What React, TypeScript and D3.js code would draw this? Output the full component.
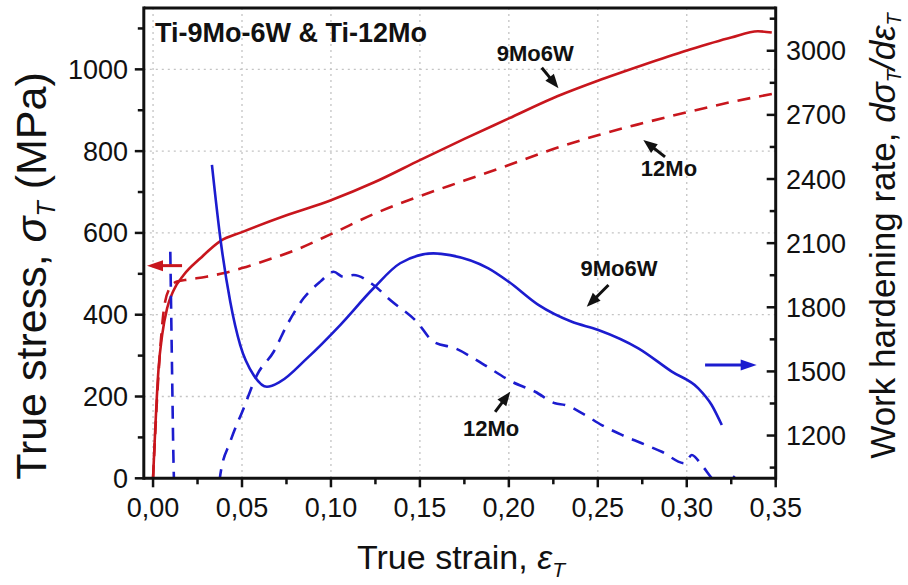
import React from "react";
import * as d3 from "d3";

// ---- Data ----
const strain9Mo6W = [0, 0.0031, 0.0051, 0.0079, 0.0116, 0.0172, 0.0266, 0.0378, 0.05, 0.075, 0.1, 0.125, 0.15, 0.175, 0.2, 0.225, 0.25, 0.275, 0.3, 0.325, 0.34, 0.3478];
const stress9Mo6W = [0, 269, 350, 416, 460, 497, 538, 580, 602, 643, 680, 725, 778, 830, 880, 930, 972, 1010, 1046, 1078, 1093, 1090];

const strain12Mo = [0, 0.003, 0.006, 0.009, 0.0135, 0.02, 0.03, 0.04, 0.05, 0.065, 0.08, 0.1, 0.125, 0.15, 0.175, 0.2, 0.225, 0.25, 0.275, 0.3, 0.325, 0.348];
const stress12Mo = [0, 250, 410, 462, 481, 486, 493, 502, 514, 535, 558, 597, 648, 690, 728, 766, 805, 839, 868, 895, 920, 940];

const whrStrain9Mo6W = [0.0331, 0.0378, 0.0434, 0.049, 0.0565, 0.064, 0.0715, 0.0865, 0.1052, 0.1239, 0.1389, 0.1576, 0.167, 0.1885, 0.1998, 0.2166, 0.2354, 0.2503, 0.2728, 0.2916, 0.3065, 0.314, 0.3197];
const whr9Mo6W = [2466, 2124, 1826, 1623, 1483, 1428, 1452, 1561, 1717, 1889, 2006, 2052, 2044, 1982, 1920, 1811, 1732, 1694, 1608, 1499, 1421, 1343, 1249];

const whrStrain12Mo = [0.0097, 0.0106, 0.0116, 0.0122, 0.036, 0.0378, 0.0434, 0.0509, 0.0584, 0.0678, 0.0753, 0.0846, 0.094, 0.1015, 0.107, 0.1127, 0.1239, 0.1333, 0.1483, 0.1576, 0.1698, 0.1848, 0.2017, 0.2148, 0.226, 0.2316, 0.2429, 0.2522, 0.2635, 0.2747, 0.286, 0.299, 0.3028, 0.3084, 0.314, 0.3195, 0.325, 0.327];
const whr12Mo = [2060, 1550, 1040, 900, 900, 1016, 1171, 1327, 1483, 1592, 1717, 1842, 1920, 1966, 1942, 1951, 1904, 1834, 1732, 1639, 1608, 1538, 1452, 1405, 1351, 1343, 1296, 1249, 1203, 1164, 1124, 1070, 1109, 1062, 1001, 950, 990, 1010];

const xTicks = [0, 0.05, 0.1, 0.15, 0.2, 0.25, 0.3, 0.35];
const xMinorTicks = [0.025, 0.075, 0.125, 0.175, 0.225, 0.275, 0.325];
const yLeftTicks = [0, 200, 400, 600, 800, 1000];
const yLeftMinorTicks = [100, 300, 500, 700, 900, 1100];
const yRightTicks = [1200, 1500, 1800, 2100, 2400, 2700, 3000];
const yRightMinorTicks = [1050, 1350, 1650, 1950, 2250, 2550, 2850, 3150];

const labelTexts = ["9Mo6W", "12Mo", "9Mo6W", "12Mo"];
const labelX = [0.2148, 0.29, 0.2619, 0.19];
const labelY = [1040, 759, 1984, 1235];
const labelAxis = ["L", "L", "R", "R"];

const pointerTailX = [0.2185, 0.2878, 0.256, 0.1923];
const pointerTailY = [1004, 786, 1904, 1311];
const pointerHeadX = [0.2279, 0.2756, 0.2438, 0.2008];
const pointerHeadY = [954, 827, 1803, 1405];

const RED = "#c8161d";
const BLUE = "#1c1ccf";
const FONT = "'Liberation Sans', Arial, Helvetica, sans-serif";

const W = 908, H = 585;
const L = 143.8, R = 775.7, T = 8, B = 478.3;

function zip(xs: number[], ys: number[]) {
  return xs.map((x, i) => [x, ys[i]] as [number, number]);
}

function Arrow({ x1, y1, x2, y2, color, hl, hw, sw }: any) {
  const dx = x2 - x1, dy = y2 - y1;
  const len = Math.hypot(dx, dy);
  const ux = dx / len, uy = dy / len;
  const bx = x2 - ux * hl, by = y2 - uy * hl;
  const px = -uy, py = ux;
  const pts = [
    [x2, y2],
    [bx + px * hw / 2, by + py * hw / 2],
    [bx - px * hw / 2, by - py * hw / 2],
  ];
  return (
    <g>
      <line x1={x1} y1={y1} x2={bx + ux * 1} y2={by + uy * 1} stroke={color} strokeWidth={sw} />
      <polygon points={pts.map((p) => p.join(",")).join(" ")} fill={color} />
    </g>
  );
}

export default function App() {
  const x = d3.scaleLinear().domain([-0.0052, 0.35]).range([L, R]);
  const yL = d3.scaleLinear().domain([0, 1150]).range([B, T]);
  const yR = d3.scaleLinear().domain([1000, 3200]).range([B, T]);

  const lineL = d3.line<[number, number]>().x((d) => x(d[0])).y((d) => yL(d[1])).curve(d3.curveMonotoneX);
  const lineR = d3.line<[number, number]>().x((d) => x(d[0])).y((d) => yR(d[1])).curve(d3.curveMonotoneX);

  const fmtX = (v: number) => d3.format(".2f")(v).replace(".", ",");

  return (
    <svg width={W} height={H} style={{ position: "fixed", left: 0, top: 0, background: "#fff" }} fontFamily={FONT}>
      <defs>
        <clipPath id="plot">
          <rect x={L} y={T} width={R - L} height={B - T} />
        </clipPath>
      </defs>
      <rect x={0} y={0} width={W} height={H} fill="#fff" />

      {/* grid */}
      <g stroke="#c4c4c4" strokeWidth={1.3} strokeDasharray="2 4">
        {xTicks.slice(0, -1).map((t) => (
          <line key={"gx" + t} x1={x(t)} x2={x(t)} y1={T} y2={B} />
        ))}
        {yLeftTicks.slice(1).map((t) => (
          <line key={"gy" + t} x1={L} x2={R} y1={yL(t)} y2={yL(t)} />
        ))}
      </g>

      {/* curves */}
      <g clipPath="url(#plot)" fill="none" strokeWidth={2.6}>
        <path d={lineL(zip(strain9Mo6W, stress9Mo6W)) || ""} stroke={RED} />
        <path d={lineL(zip(strain12Mo, stress12Mo)) || ""} stroke={RED} strokeDasharray="13 9" />
        <path d={lineR(zip(whrStrain9Mo6W, whr9Mo6W)) || ""} stroke={BLUE} />
        <path d={lineR(zip(whrStrain12Mo, whr12Mo)) || ""} stroke={BLUE} strokeDasharray="13 9" />
      </g>

      {/* frame */}
      <g stroke="#111" strokeWidth={3} fill="none">
        <line x1={L} x2={R} y1={T} y2={T} />
        <line x1={L} x2={R} y1={B} y2={B} />
        <line x1={L} x2={L} y1={T - 1.5} y2={B + 1.5} />
        <line x1={R} x2={R} y1={T - 1.5} y2={B + 1.5} />
      </g>

      {/* ticks */}
      <g stroke="#111" strokeWidth={2.5}>
        {xTicks.map((t) => (
          <line key={"tx" + t} x1={x(t)} x2={x(t)} y1={B} y2={B + 9} />
        ))}
        {xMinorTicks.map((t) => (
          <line key={"mx" + t} x1={x(t)} x2={x(t)} y1={B} y2={B + 6} />
        ))}
        {yLeftTicks.map((t) => (
          <line key={"ty" + t} x1={L - 9} x2={L} y1={yL(t)} y2={yL(t)} />
        ))}
        {yLeftMinorTicks.map((t) => (
          <line key={"my" + t} x1={L - 6} x2={L} y1={yL(t)} y2={yL(t)} />
        ))}
        {yRightTicks.map((t) => (
          <line key={"tr" + t} x1={R - 9} x2={R} y1={yR(t)} y2={yR(t)} />
        ))}
        {yRightMinorTicks.map((t) => (
          <line key={"mr" + t} x1={R - 6} x2={R} y1={yR(t)} y2={yR(t)} />
        ))}
      </g>

      {/* tick labels */}
      <g fontSize={27} fill="#111">
        {xTicks.map((t) => (
          <text key={"lx" + t} x={x(t)} y={517} textAnchor="middle">{fmtX(t)}</text>
        ))}
        {yLeftTicks.map((t) => (
          <text key={"ly" + t} x={128} y={yL(t) + 9.5} textAnchor="end">{t}</text>
        ))}
        {yRightTicks.map((t) => (
          <text key={"lr" + t} x={786} y={yR(t) + 9.5} textAnchor="start">{t}</text>
        ))}
      </g>

      {/* axis titles */}
      <text x={461} y={569} fontSize={34} textAnchor="middle" fill="#111">
        True strain, <tspan fontStyle="italic">ε</tspan>
        <tspan fontSize={21} fontStyle="italic" dy={8}>T</tspan>
      </text>
      <text transform="translate(46,276) rotate(-90)" fontSize={43} textAnchor="middle" fill="#111">
        True stress, <tspan fontStyle="italic">σ</tspan>
        <tspan fontSize={25} fontStyle="italic" dy={9}>T</tspan>
        <tspan dy={-9}> (MPa)</tspan>
      </text>
      <text transform="translate(895,236) rotate(-90)" fontSize={35} textAnchor="middle" fill="#111">
        Work hardening rate, <tspan fontStyle="italic">dσ</tspan>
        <tspan fontSize={20} fontStyle="italic" dy={6}>T</tspan>
        <tspan fontStyle="italic" dy={-6}>/dε</tspan>
        <tspan fontSize={20} fontStyle="italic" dy={6}>T</tspan>
      </text>

      {/* title */}
      <text x={155} y={42} fontSize={27} fontWeight="bold" fill="#111">Ti-9Mo-6W &amp; Ti-12Mo</text>

      {/* curve labels */}
      <g fontSize={22} fontWeight="bold" fill="#111" textAnchor="middle">
        {labelTexts.map((s, i) => (
          <text key={"lab" + i} x={x(labelX[i])} y={(labelAxis[i] === "L" ? yL(labelY[i]) : yR(labelY[i])) + 8}>{s}</text>
        ))}
      </g>
      {labelTexts.map((s, i) => {
        const ys = labelAxis[i] === "L" ? yL : yR;
        return (
          <Arrow key={"arr" + i} x1={x(pointerTailX[i])} y1={ys(pointerTailY[i])} x2={x(pointerHeadX[i])} y2={ys(pointerHeadY[i])} color="#111" hl={14} hw={11} sw={3} />
        );
      })}

      {/* axis-indicator arrows */}
      <Arrow x1={x(0.0163)} y1={yL(520)} x2={x(-0.0034)} y2={yL(520)} color={RED} hl={16} hw={11} sw={3} />
      <Arrow x1={x(0.3103)} y1={yR(1530)} x2={x(0.3393)} y2={yR(1530)} color={BLUE} hl={16} hw={11} sw={3} />
    </svg>
  );
}
